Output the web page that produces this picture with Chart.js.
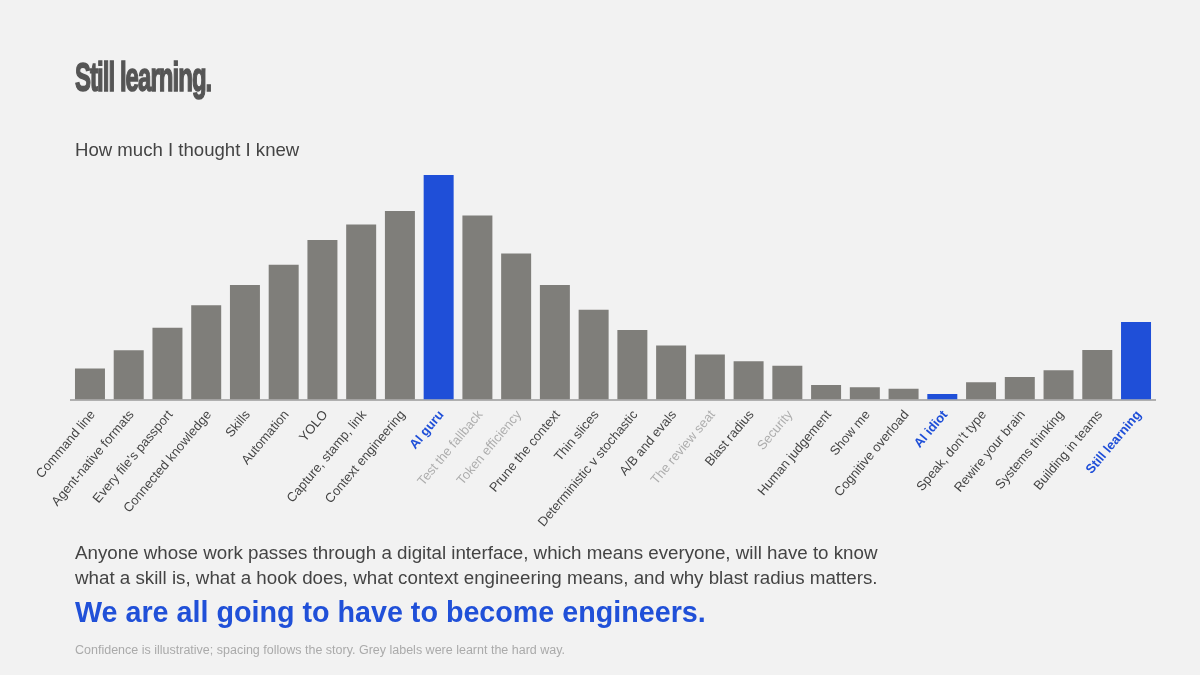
<!DOCTYPE html>
<html>
<head>
<meta charset="utf-8">
<script src="https://cdn.jsdelivr.net/npm/chart.js@4.4.1/dist/chart.umd.min.js"></script>
<style>
  html, body { margin: 0; padding: 0; background: #f2f2f2; }
  body { width: 1200px; height: 675px; position: relative; overflow: hidden;
         font-family: "Liberation Sans", Arial, Helvetica, sans-serif; }
  #wrap { position: absolute; left: 0; top: 0; width: 1200px; height: 675px; }
  .txt { position: absolute; left: 75px; white-space: nowrap; line-height: 1; }
  #title { top: 57px; font-size: 40px; font-weight: bold; color: #555;
           letter-spacing: -1.6px; transform: scaleX(0.6); transform-origin: 0 0;
           -webkit-text-stroke: 1.5px #555; }
  #sub { top: 141px; font-size: 18.6px; color: #444; }
  #body { top: 540px; font-size: 18.75px; color: #444; line-height: 25px; }
  #punch { top: 598px; font-size: 28.7px; font-weight: bold; color: #2050d8; }
  #note { top: 644px; font-size: 12.5px; color: #aaa; }
</style>
</head>
<body>
<div id="wrap"><canvas id="chart"></canvas></div>
<div class="txt" id="title">Still learning.</div>
<div class="txt" id="sub">How much I thought I knew</div>
<div class="txt" id="body">Anyone whose work passes through a digital interface, which means everyone, will have to know<br>what a skill is, what a hook does, what context engineering means, and why blast radius matters.</div>
<div class="txt" id="punch">We are all going to have to become engineers.</div>
<div class="txt" id="note">Confidence is illustrative; spacing follows the story. Grey labels were learnt the hard way.</div>
<script>
// lessons, in the order they came
const lessons = [
  "Command line", "Agent-native formats", "Every file\u2019s passport", "Connected knowledge",
  "Skills", "Automation", "YOLO", "Capture, stamp, link", "Context engineering", "AI guru",
  "Test the fallback", "Token efficiency", "Prune the context", "Thin slices",
  "Deterministic v stochastic", "A/B and evals", "The review seat", "Blast radius", "Security",
  "Human judgement", "Show me", "Cognitive overload", "AI idiot", "Speak, don\u2019t type",
  "Rewire your brain", "Systems thinking", "Building in teams", "Still learning"
];

// how much I thought I knew (0-100)
const confidence = [
  13.8, 21.9, 32, 42, 51, 60, 71, 78, 84, 100,
  82, 65, 51, 40, 31, 24, 20, 17, 15,
  6.5, 5.5, 4.8, 2.5, 7.7, 10, 13, 22, 34.5
];

const milestones = ["AI guru", "AI idiot", "Still learning"];
const hardWay = ["Test the fallback", "Token efficiency", "The review seat", "Security"];

const BLUE = '#1f4fd8';
const GREY = '#7f7e7a';

const ctx = document.getElementById('chart').getContext('2d');
new Chart(ctx, {
  type: 'bar',
  data: {
    labels: lessons,
    datasets: [{
      data: confidence,
      backgroundColor: lessons.map(l => milestones.includes(l) ? BLUE : GREY),
      borderWidth: 0,
      categoryPercentage: 1,
      barPercentage: 0.774
    }]
  },
  options: {
    responsive: true,
    maintainAspectRatio: false,
    animation: false,
    layout: { padding: { left: 70.6, right: 44.6, top: 175, bottom: 145.5 } },
    plugins: { legend: { display: false }, tooltip: { enabled: false } },
    scales: {
      x: {
        grid: { display: false, drawTicks: false },
        border: { display: true, color: '#b0b0b0', width: 2 },
        afterFit: (scale) => { scale.height = 130; },
        ticks: {
          autoSkip: false,
          maxRotation: 50,
          minRotation: 50,
          padding: 8,
          labelOffset: 3,
          color: (c) => {
            const l = lessons[c.index];
            if (milestones.includes(l)) return BLUE;
            if (hardWay.includes(l)) return '#adadad';
            return '#444';
          },
          font: (c) => ({
            family: '"Liberation Sans", Arial, sans-serif',
            size: 13,
            weight: milestones.includes(lessons[c.index]) ? 'bold' : 'normal'
          })
        }
      },
      y: {
        display: false,
        min: 0,
        max: 100
      }
    }
  }
});
</script>
</body>
</html>
